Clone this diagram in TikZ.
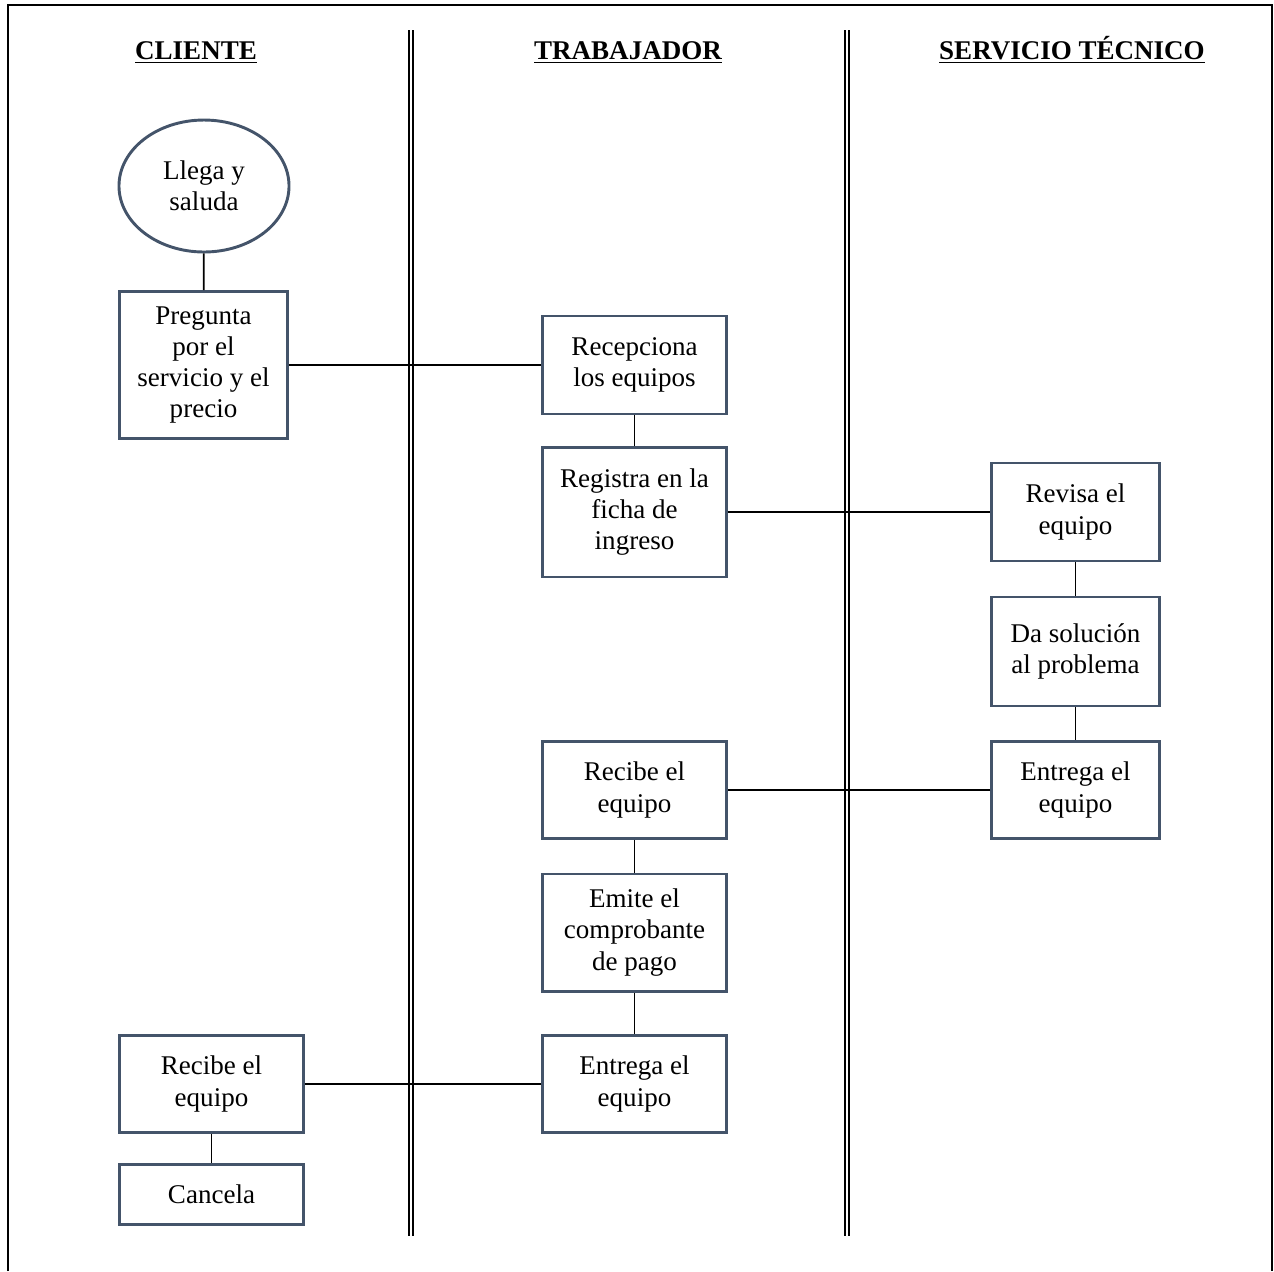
\documentclass[tikz,border=0pt,12pt]{standalone}
\usepackage{fontspec}
\setmainfont{Liberation Serif}
\usepackage{xcolor}
\usetikzlibrary{positioning,shapes.geometric}
\definecolor{boxblue}{HTML}{44546A}

\begin{document}
\begin{tikzpicture}[
    x=0.444pt,y=-0.444pt,
    txt/.style={font=\fontsize{12}{13.8}\selectfont,align=center,inner sep=0pt},
    paso/.style={txt,rectangle,draw=boxblue,line width=1.3pt,minimum width=81.3pt},
    pasoN/.style={paso,minimum width=74.2pt},
    inicio/.style={txt,ellipse,draw=boxblue,line width=1.3pt,minimum width=75.5pt,minimum height=58.6pt},
    head/.style={font=\fontsize{12}{13.8}\selectfont\bfseries,inner sep=0pt,anchor=base},
    link/.style={black,line width=0.75pt},
    carril/.style={black,line width=0.6pt},
]
\useasboundingbox (0,0) rectangle (1274,1271);

% ---- marco y carriles ----
\draw[line width=0.9pt] (8,1271) -- (8,5) -- (1272,5) -- (1272,1271);
\foreach \x in {409,413,845,849}
  \draw[carril] (\x,30) -- (\x,1236);

\node[head] (hC) at (196,59) {\underline{CLIENTE}};
\node[head] (hT) at (628,59) {\underline{TRABAJADOR}};
\node[head] (hS) at (1072,59) {\underline{SERVICIO TÉCNICO}};

% ---- cliente ----
\node[inicio] (llega) at (204,186) {Llega y\\saluda};
\node[pasoN,minimum height=65.3pt] (pregunta) at (203.5,365) {Pregunta\\por el\\servicio y el\\precio};
\node[paso,minimum height=43pt] (recibeC) at (211.5,1084) {Recibe el\\equipo};
\node[paso,minimum height=27pt] (cancela) at (211.5,1194.5) {Cancela};

% ---- trabajador ----
\node[paso,minimum height=43.5pt] (recep) at (634.5,365) {Recepciona\\los equipos};
\node[paso,minimum height=57.7pt] (registra) at (634.5,512) {Registra en la\\ficha de\\ingreso};
\node[paso,minimum height=43pt] (recibeT) at (634.5,790) {Recibe el\\equipo};
\node[paso,minimum height=52pt] (emite) at (634.5,932.5) {Emite el\\comprobante\\de pago};
\node[paso,minimum height=43pt] (entregaT) at (634.5,1084) {Entrega el\\equipo};

% ---- servicio tecnico ----
\node[pasoN,minimum height=43.5pt] (revisa) at (1075.5,512) {Revisa el\\equipo};
\node[pasoN,minimum height=48.4pt] (solucion) at (1075.5,651.5) {Da solución\\al problema};
\node[pasoN,minimum height=43pt] (entregaS) at (1075.5,790) {Entrega el\\equipo};

% ---- conexiones ----
\draw[link] (llega) -- (pregunta);
\draw[link] (pregunta) -- (recep);
\draw[link] (recep) -- (registra);
\draw[link] (registra) -- (revisa);
\draw[link] (revisa) -- (solucion);
\draw[link] (solucion) -- (entregaS);
\draw[link] (entregaS) -- (recibeT);
\draw[link] (recibeT) -- (emite);
\draw[link] (emite) -- (entregaT);
\draw[link] (entregaT) -- (recibeC);
\draw[link] (recibeC) -- (cancela);

\end{tikzpicture}
\end{document}
